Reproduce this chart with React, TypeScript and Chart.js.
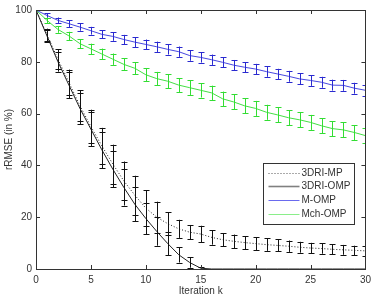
import { useEffect, useRef } from 'react';
import { Chart, registerables } from 'chart.js';

Chart.register(...registerables);

const iterations = Array.from({ length: 31 }, (_, i) => i);
const xTicks = [0, 5, 10, 15, 20, 25, 30];
const yTicks = [0, 20, 40, 60, 80, 100];

const seriesLabels = ['3DRI-MP', '3DRI-OMP', 'M-OMP', 'Mch-OMP'];

const mpMean = [100, 90.5, 81, 72, 63, 55, 47.5, 40.5, 34, 28.5, 23.5, 20, 17.5, 15.5, 14.2, 13.5, 12.2, 11.3, 10.7, 10.2, 9.8, 9.4, 9.1, 8.8, 8.4, 8.1, 7.9, 7.6, 7.4, 7.2, 7.0];
const mpErr = [0, 2.3, 3.8, 5, 6, 6.5, 7, 7.5, 7.5, 7.5, 7, 6, 4.5, 3.5, 2.8, 3.2, 2.8, 2.6, 2.6, 2.5, 2.5, 2.4, 2.3, 2.2, 2.1, 2.0, 2.0, 1.9, 1.9, 1.8, 1.8];

const ompMean = [100, 90, 80, 71, 62, 54, 46, 38.5, 31.5, 25, 19.5, 14.5, 9.8, 5.5, 2.5, 0.3, 0, 0, 0, 0, 0, 0, 0, 0, 0, 0, 0, 0, 0, 0, 0];
const ompErr = [0, 2.3, 3.8, 5, 6, 6.5, 7, 7, 7, 6.5, 6, 5.5, 4.5, 3, 2, 0.5, 0, 0, 0, 0, 0, 0, 0, 0, 0, 0, 0, 0, 0, 0, 0];

const mompMean = [100, 97.9, 96, 94.7, 93.4, 92, 90.6, 89.8, 88.6, 87.6, 86.7, 85.8, 84.8, 83.9, 82.4, 81.7, 80.8, 79.8, 78.7, 77.9, 77.2, 76.2, 75.3, 74.4, 73.4, 72.8, 72.1, 71.0, 70.9, 69.8, 69.0];
const mompErr = [0, 0.9, 1.1, 1.3, 1.4, 1.5, 1.6, 1.7, 1.8, 1.9, 1.9, 2.0, 2.0, 2.0, 2.0, 2.0, 2.0, 2.0, 2.0, 2.0, 2.0, 2.0, 2.0, 2.1, 2.1, 2.1, 2.1, 2.1, 2.1, 2.1, 2.1];

const mchMean = [100, 96, 92.5, 90, 87, 85, 83, 81, 79, 77.5, 75, 73.5, 72.5, 71, 70, 69, 68, 65.7, 64.5, 63, 62, 60.5, 59.5, 58.4, 57.6, 56.6, 55.3, 54.2, 53.7, 52.7, 51.5];
const mchErr = [0, 1.0, 1.3, 1.6, 1.8, 2.0, 2.1, 2.2, 2.3, 2.4, 2.5, 2.6, 2.7, 2.7, 2.8, 2.8, 2.8, 2.8, 2.9, 2.9, 2.9, 2.9, 2.9, 2.9, 2.9, 2.9, 2.9, 2.9, 2.9, 2.9, 2.9];

const lineColors = ['#222222', '#222222', '#4848e0', '#44e044'];
const barColors = ['#111111', '#111111', '#2a2ad0', '#33dd33'];
const legendColors = ['#555555', '#808080', '#6a6aee', '#8aee8a'];
const errs = [mpErr, ompErr, mompErr, mchErr];
const means = [mpMean, ompMean, mompMean, mchMean];

const FONT = "'Liberation Sans', Arial, sans-serif";

const errorBarPlugin = {
  id: 'errorBars',
  afterDatasetsDraw(chart: any) {
    const { ctx, chartArea, scales } = chart;
    const xs = scales.x;
    const ys = scales.y;
    ctx.save();
    ctx.beginPath();
    ctx.rect(chartArea.left, chartArea.top, chartArea.right - chartArea.left, chartArea.bottom - chartArea.top);
    ctx.clip();
    ctx.lineWidth = 1;
    const cap = 3;
    errs.forEach((err, si) => {
      ctx.strokeStyle = barColors[si];
      iterations.forEach((it, i) => {
        const e = err[i];
        if (!e) return;
        const m = means[si][i];
        const px = Math.round(xs.getPixelForValue(it)) + 0.5;
        const y1 = ys.getPixelForValue(m + e);
        const y2 = ys.getPixelForValue(m - e);
        ctx.beginPath();
        ctx.moveTo(px, y1);
        ctx.lineTo(px, y2);
        ctx.moveTo(px - cap, Math.round(y1) + 0.5);
        ctx.lineTo(px + cap, Math.round(y1) + 0.5);
        ctx.moveTo(px - cap, Math.round(y2) + 0.5);
        ctx.lineTo(px + cap, Math.round(y2) + 0.5);
        ctx.stroke();
      });
    });
    ctx.restore();
  },
};

const framePlugin = {
  id: 'frame',
  afterDraw(chart: any) {
    const { ctx, chartArea, scales } = chart;
    const { left, right, top, bottom } = chartArea;
    ctx.save();
    ctx.strokeStyle = '#333333';
    ctx.lineWidth = 1;
    ctx.strokeRect(Math.round(left) + 0.5, Math.round(top) + 0.5, Math.round(right - left), Math.round(bottom - top));
    const tl = 4;
    ctx.beginPath();
    xTicks.forEach((t) => {
      const px = Math.round(scales.x.getPixelForValue(t)) + 0.5;
      ctx.moveTo(px, bottom);
      ctx.lineTo(px, bottom - tl);
      ctx.moveTo(px, top);
      ctx.lineTo(px, top + tl);
    });
    yTicks.forEach((t) => {
      const py = Math.round(scales.y.getPixelForValue(t)) + 0.5;
      ctx.moveTo(left, py);
      ctx.lineTo(left + tl, py);
      ctx.moveTo(right, py);
      ctx.lineTo(right - tl, py);
    });
    ctx.stroke();

    // legend box
    const bx = Math.round(right) - 101.5;
    const by = Math.round(top) + 153.5;
    const bw = 91;
    const bh = 61;
    ctx.fillStyle = '#ffffff';
    ctx.fillRect(bx, by, bw, bh);
    ctx.strokeStyle = '#333333';
    ctx.strokeRect(bx, by, bw, bh);
    ctx.font = `10px ${FONT}`;
    ctx.textBaseline = 'middle';
    ctx.textAlign = 'left';
    seriesLabels.forEach((lab, i) => {
      const ly = Math.round(by + 9 + i * 13.8) + 0.5;
      ctx.beginPath();
      ctx.strokeStyle = legendColors[i];
      ctx.lineWidth = i === 1 ? 1.6 : 1;
      ctx.setLineDash(i === 0 ? [1, 2] : []);
      ctx.moveTo(bx + 5, ly);
      ctx.lineTo(bx + 36, ly);
      ctx.stroke();
      ctx.setLineDash([]);
      ctx.fillStyle = '#333333';
      ctx.fillText(lab, bx + 38, ly);
    });
    ctx.restore();
  },
};

export default function App() {
  const ref = useRef<HTMLCanvasElement>(null);
  useEffect(() => {
    document.body.style.margin = '0';
    const canvas = ref.current;
    if (!canvas) return;
    const datasets = means.map((m, si) => ({
      label: seriesLabels[si],
      data: iterations.map((it, i) => ({ x: it, y: m[i] })),
      borderColor: lineColors[si],
      borderWidth: 1,
      borderDash: si === 0 ? [1, 2] : [],
      pointRadius: 0,
      tension: 0,
      fill: false,
    }));
    const chart = new Chart(canvas, {
      type: 'line',
      data: { datasets },
      options: {
        animation: false,
        responsive: false,
        devicePixelRatio: 1,
        layout: { padding: { top: 7, right: 8, left: 0, bottom: 0 } },
        plugins: { legend: { display: false }, tooltip: { enabled: false } },
        scales: {
          x: {
            type: 'linear',
            min: 0,
            max: 30,
            grid: { display: false, drawTicks: false },
            border: { display: false },
            ticks: { stepSize: 5, padding: 5, color: '#333333', font: { size: 10, family: FONT } },
            title: { display: true, text: 'Iteration k', color: '#333333', font: { size: 10, family: FONT }, padding: { top: 0, bottom: 0 } },
            afterFit(scale: any) { scale.height = 28; },
          },
          y: {
            min: 0,
            max: 100,
            grid: { display: false, drawTicks: false },
            border: { display: false },
            ticks: { stepSize: 20, padding: 4, color: '#333333', font: { size: 10, family: FONT } },
            title: { display: true, text: 'rRMSE (in %)', color: '#333333', font: { size: 10, family: FONT }, padding: { top: 3, bottom: 0 } },
            afterFit(scale: any) { scale.width = 36; },
          },
        },
      },
      plugins: [errorBarPlugin, framePlugin],
    } as any);
    return () => chart.destroy();
  }, []);
  return <canvas ref={ref} width={376} height={297} style={{ display: 'block' }} />;
}
